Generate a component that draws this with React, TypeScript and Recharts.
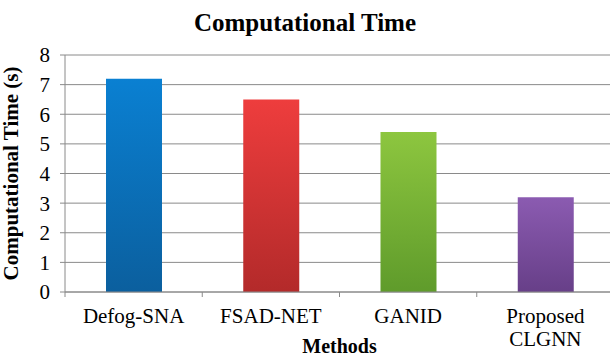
import { BarChart, Bar, XAxis, YAxis, CartesianGrid, Cell, Label } from 'recharts'

const METHODS = ['Defog-SNA', 'FSAD-NET', 'GANID', 'Proposed\nCLGNN']
const TIMES = [7.2, 6.5, 5.4, 3.2]
const Y_TICKS = [0, 1, 2, 3, 4, 5, 6, 7, 8]

// top / bottom stops of each bar's vertical gradient
const FILLS: [string, string][] = [
  ['#0a80d2', '#0b5f9e'],
  ['#ee3d3d', '#b32a2a'],
  ['#8dc63f', '#5f9b2b'],
  ['#8b5bb1', '#673f88'],
]

const data = METHODS.map((m, i) => ({ method: m, time: TIMES[i] }))

const FONT = '"Liberation Serif", "Times New Roman", serif'
const GRID = '#8a8a8a'

function MethodTick(props: any) {
  const { x, y, payload, index } = props
  const half = payload?.offset ?? 0
  const lines = String(payload.value).split('\n')
  return (
    <g>
      <line x1={x - half} x2={x - half} y1={y - 8} y2={y - 3} stroke={GRID} />
      {index === METHODS.length - 1 && (
        <line x1={x + half} x2={x + half} y1={y - 8} y2={y - 3} stroke={GRID} />
      )}
      <text
        x={x}
        y={y + 23}
        textAnchor="middle"
        fontFamily={FONT}
        style={{ fontFamily: FONT, fontSize: 21, fill: '#000' }}
      >
        {lines.map((l, i) => (
          <tspan key={i} x={x} dy={i === 0 ? 0 : 23}>{l}</tspan>
        ))}
      </text>
    </g>
  )
}

export default function App() {
  return (
    <div style={{ position: 'absolute', left: 0, top: 0, width: 610, height: 356, background: '#fff' }}>
      <div
        style={{
          position: 'absolute', left: 0, top: 9, width: 610, textAlign: 'center',
          fontFamily: FONT, fontWeight: 'bold', fontSize: 25, color: '#000',
        }}
      >
        Computational Time
      </div>
      <BarChart
        width={610}
        height={356}
        data={data}
        margin={{ top: 55, right: -4, left: 0, bottom: 0 }}
        barSize={56}
        style={{ fontFamily: FONT }}
      >
        <defs>
          {FILLS.map(([top, bottom], i) => (
            <linearGradient key={i} id={`barFill${i}`} x1="0" y1="0" x2="0" y2="1">
              <stop offset="0%" stopColor={top} />
              <stop offset="100%" stopColor={bottom} />
            </linearGradient>
          ))}
        </defs>
        <CartesianGrid stroke={GRID} vertical={false} />
        <XAxis
          dataKey="method"
          height={64}
          axisLine={{ stroke: GRID }}
          tickLine={false}
          interval={0}
          tick={<MethodTick />}
        >
          <Label
            value="Methods"
            position="insideBottom"
            offset={3}
            style={{ fontFamily: FONT, fontWeight: 'bold', fontSize: 20, fill: '#000' }}
          />
        </XAxis>
        <YAxis
          width={65}
          domain={[0, 8]}
          ticks={Y_TICKS}
          interval={0}
          axisLine={{ stroke: GRID }}
          tickLine={{ stroke: GRID }}
          tickSize={5}
          tickMargin={10}
          tick={{ fontFamily: FONT, style: { fontFamily: FONT, fontSize: 21, fill: '#000' } }}
        >
          <Label
            value="Computational Time (s)"
            angle={-90}
            position="insideLeft"
            offset={11}
            style={{ textAnchor: 'middle', fontFamily: FONT, fontWeight: 'bold', fontSize: 21, fill: '#000' }}
          />
        </YAxis>
        <Bar dataKey="time" isAnimationActive={false}>
          {data.map((_, i) => (
            <Cell key={i} fill={`url(#barFill${i})`} />
          ))}
        </Bar>
      </BarChart>
    </div>
  )
}
